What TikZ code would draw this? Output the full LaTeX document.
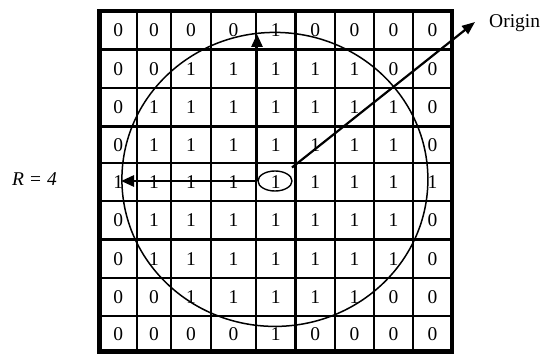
\documentclass[tikz,border=0pt]{standalone}
\usepackage{fontspec}
\setmainfont{Liberation Serif}
\usetikzlibrary{arrows.meta,shapes.geometric}
\begin{document}
\begin{tikzpicture}[x=1pt,y=-1pt,
  cellnum/.style={font=\fontsize{19.5}{22}\selectfont, inner sep=0pt},
  gridline/.style={line width=2.2pt},
  borderline/.style={line width=4.5pt},
  bigarrow/.style={line width=2.8pt,-{Triangle[length=13pt,width=11pt]}},
  diagarrow/.style={line width=2.2pt,-{Triangle[length=13pt,width=10pt]}},
  labeltext/.style={font=\fontsize{19.5}{22}\selectfont, inner sep=0pt}]
\useasboundingbox (0,0) rectangle (540,353);
% inner grid lines
\foreach \x in {137,171,211,256,295.5,335,374,413}
  \draw[gridline] (\x,11) -- (\x,351.5);
\foreach \y in {49.5,88,126.5,163,201,239.5,278,316}
  \draw[gridline] (99.5,\y) -- (452,\y);
% outer border
\draw[borderline] (99.5,11) rectangle (452,351.5);
% cell values
\foreach \ry/\vals [count=\r from 0] in {
  30.25/{0,0,0,0,1,0,0,0,0},
  68.75/{0,0,1,1,1,1,1,0,0},
  107.25/{0,1,1,1,1,1,1,1,0},
  144.75/{0,1,1,1,1,1,1,1,0},
  182/{1,1,1,1,1,1,1,1,1},
  220.25/{0,1,1,1,1,1,1,1,0},
  258.75/{0,1,1,1,1,1,1,1,0},
  297/{0,0,1,1,1,1,1,0,0},
  333.75/{0,0,0,0,1,0,0,0,0}} {
  \foreach \v [count=\c from 0] in \vals {
    \pgfmathsetmacro\cx{{118.25,154,191,233.5,275.75,315.25,354.5,393.5,432.5}[\c]}
    \node[cellnum] (n-\r-\c) at (\cx,\ry) {\v};
  }
}
% big circle
\coordinate (cc) at (274.9,179.4);
\draw[line width=1.5pt] (cc) ellipse [x radius=153pt, y radius=147pt];
% small ellipse around centre
\node[draw, ellipse, line width=1.4pt, minimum width=34pt, minimum height=20pt, inner sep=0pt] (ell) at (275,181) {};
% arrows
\coordinate (o) at (257,181);
\coordinate (up) at (257,34);
\coordinate (lt) at (121,181);
\coordinate (tipO) at (475,22);
\draw[bigarrow] (o) -- (up);
\draw[bigarrow] (o) -- (lt);
\draw[diagarrow, shorten <=8pt] (ell) -- (tipO);
% labels
\node[labeltext, anchor=base west] (origin) at (489,28) {Origin};
\node[labeltext, anchor=base west] (rlab) at (12,185) {\textit{R = 4}};
\end{tikzpicture}
\end{document}
